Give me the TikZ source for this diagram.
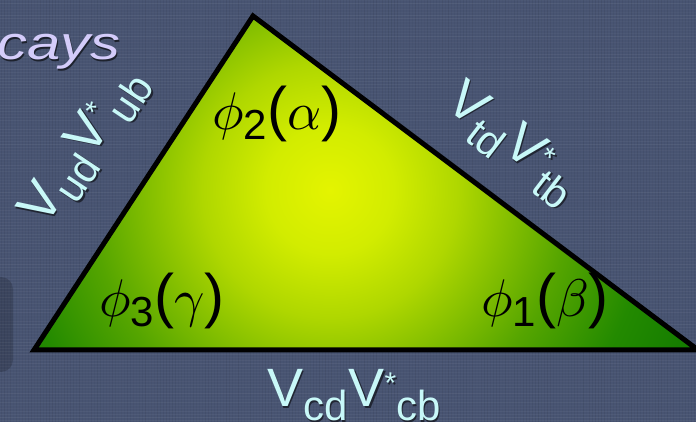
\documentclass[tikz,border=0pt]{standalone}
\usepackage{fontspec}
\setmainfont{Liberation Sans}
\usepackage{graphicx}
\definecolor{bg}{RGB}{72,84,114}
\definecolor{labcol}{RGB}{200,248,248}
\definecolor{caycol}{RGB}{212,204,250}
\definecolor{gA}{RGB}{228,244,0}
\definecolor{gB}{RGB}{210,236,0}
\definecolor{gC}{RGB}{175,215,0}
\definecolor{gD}{RGB}{130,190,0}
\definecolor{gE}{RGB}{85,165,0}
\definecolor{gF}{RGB}{35,138,0}
\definecolor{gG}{RGB}{18,122,0}
\pgfdeclareradialshading{trishade}{\pgfpoint{0bp}{0bp}}{color(0bp)=(gA); color(4bp)=(gB); color(8bp)=(gC); color(11.5bp)=(gD); color(15bp)=(gE); color(20bp)=(gF); color(25bp)=(gG); color(50bp)=(gG)}
\newcommand\bigVf{\fontsize{54}{54}\selectfont}
\newcommand\subVf{\fontsize{42}{42}\selectfont}
\newcommand\starVf{\fontsize{30}{30}\selectfont}
\newcommand\ckmlab[2]{{\bigVf V}\raisebox{-14pt}{\subVf #1}\kern1pt{\bigVf V}\raisebox{13pt}{\starVf *}\raisebox{-14pt}{\subVf #2}}
\newcommand\digf{\fontsize{42}{42}\selectfont}
\newcommand\parf{\fontsize{60}{60}\selectfont}
\newcommand\philab[2]{\scalebox{5.3}{$\phi$}\raisebox{-10pt}{\digf #1}{\parf(}\scalebox{5.3}{$#2$}{\parf)}}
\begin{document}
\begin{tikzpicture}[x=1pt,y=1pt,
  ckm/.style={inner sep=0pt, anchor=base west, text=labcol},
  ckmsh/.style={inner sep=0pt, anchor=base west, text=black, opacity=0.55},
  anglab/.style={inner sep=0pt, anchor=base west, text=black}]
\useasboundingbox (0,0) rectangle (696,422);
\clip (0,0) rectangle (696,422);
\fill[bg] (0,0) rectangle (696,422);
% faint linen texture
\pgfmathsetseed{11}
\foreach \i in {1,4,...,696} {
  \pgfmathsetmacro\op{0.02+0.05*rnd}
  \draw[black, opacity=\op, line width=1pt] (\i,0) -- (\i,422);
}
\foreach \j in {2,5,...,422} {
  \pgfmathsetmacro\op{0.02+0.04*rnd}
  \draw[white, opacity=\op, line width=0.8pt] (0,\j) -- (696,\j);
}
% partial panel at the left edge
\fill[black, opacity=0.17, rounded corners=12pt] (-20,50) rectangle (13,145);
% title fragment
\node[inner sep=0pt, anchor=base west, text=black, opacity=0.6] (caysh) at (-1.5,360.5)
  {\scalebox{1.27}[1]{\fontsize{47}{47}\selectfont\itshape cays}};
\node[inner sep=0pt, anchor=base west, text=caycol] (cays) at (-3,362)
  {\scalebox{1.27}[1]{\fontsize{47}{47}\selectfont\itshape cays}};
% triangle
\coordinate (A) at (253,406);
\coordinate (B) at (34,72);
\coordinate (C) at (698,72);
\begin{scope}
  \clip (A) -- (B) -- (C) -- cycle;
  \shade[shading=trishade] (330,232) circle (400);
\end{scope}
\draw[line width=5pt, line join=miter] (A) -- (B) -- (C) -- cycle;
% angle labels
\node[anglab] (phi2) at (212,292) {\philab{2}{\alpha}};
\node[anglab] (phi3) at (99,105) {\philab{3}{\gamma}};
\node[anglab] (phi1) at (481,105) {\philab{1}{\beta}};
% side labels
\node[ckmsh, rotate=56.3] (sideLsh) at (46.5,192.5) {\ckmlab{ud}{ub}};
\node[ckm, rotate=56.3] (sideL) at (45,194) {\ckmlab{ud}{ub}};
\node[ckmsh, rotate=-37.5] (sideRsh) at (444.5,314.5) {\ckmlab{td}{tb}};
\node[ckm, rotate=-37.5] (sideR) at (443,316) {\ckmlab{td}{tb}};
\node[ckmsh] (sideBsh) at (268.5,13.5) {\ckmlab{cd}{cb}};
\node[ckm] (sideB) at (267,15) {\ckmlab{cd}{cb}};
\end{tikzpicture}
\end{document}
